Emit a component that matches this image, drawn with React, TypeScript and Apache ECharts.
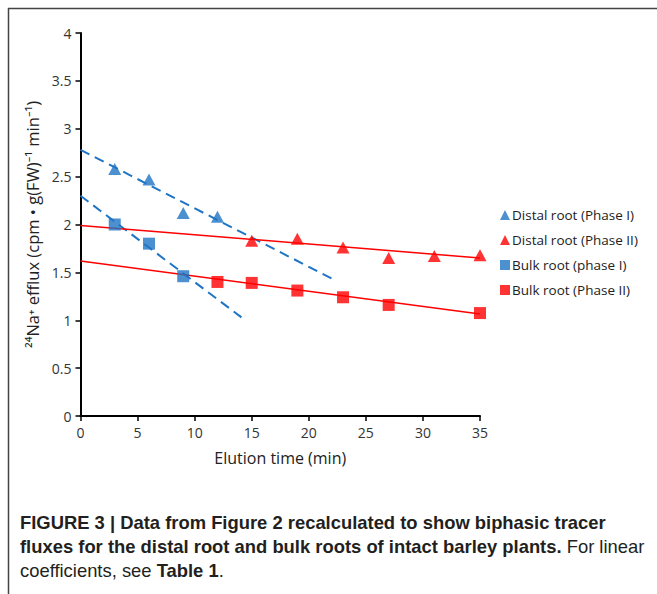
import React, { useEffect, useRef } from "react";
import * as echarts from "echarts";

const distalPhase1 = [[3, 2.58], [6, 2.47], [9, 2.12], [12, 2.08]];
const distalPhase2 = [[15, 1.83], [19, 1.85], [23, 1.76], [27, 1.65], [31, 1.67], [35, 1.68]];
const bulkPhase1 = [[3, 2.0], [6, 1.8], [9, 1.46]];
const bulkPhase2 = [[12, 1.4], [15, 1.39], [19, 1.31], [23, 1.24], [27, 1.16], [35, 1.075]];

const trendDistal1 = [[0, 2.78], [22.1, 1.43]];
const trendBulk1 = [[0, 2.3], [14.1, 1.03]];
const trendDistal2 = [[0, 1.99], [35, 1.65]];
const trendBulk2 = [[0, 1.62], [35, 1.065]];

const legendNames = ["Distal root (Phase I)", "Distal root (Phase II)", "Bulk root (phase I)", "Bulk root (Phase II)"];

const BLUE = "#1F74C4";
const RED = "#FF0000";
const TRI = "triangle";
const SQ = "rect";
const CHART_FONT = "'Open Sans', 'Noto Sans', sans-serif";
const CAP_FONT = "'Liberation Sans', Arial, sans-serif";
const CAP_SIZE = 18.4;

export default function App() {
  const ref = useRef<HTMLDivElement>(null);
  useEffect(() => {
    document.body.style.margin = "0";
    const chart = echarts.init(ref.current!, null, { renderer: "svg" });
    const capStyle = { fontFamily: CAP_FONT, fontSize: CAP_SIZE, fill: "#231f20" };
    const rich = {
      b: { fontFamily: CAP_FONT, fontSize: CAP_SIZE, fontWeight: "bold", fill: "#231f20" },
      n: { fontFamily: CAP_FONT, fontSize: CAP_SIZE, fontWeight: "normal", fill: "#231f20" },
    };
    chart.setOption({
      animation: false,
      backgroundColor: "#ffffff",
      textStyle: { fontFamily: CHART_FONT },
      grid: { left: 80.5, right: 177, top: 33, bottom: 178 },
      xAxis: {
        type: "value",
        min: 0,
        max: 35,
        interval: 5,
        name: "Elution time (min)",
        nameLocation: "middle",
        nameGap: 34,
        nameTextStyle: { fontSize: 16, color: "#222", fontFamily: CHART_FONT },
        axisLine: { lineStyle: { color: "#000", width: 2 } },
        axisTick: { show: true, length: 5, lineStyle: { color: "#000", width: 1.5 } },
        axisLabel: { fontSize: 14, color: "#333", margin: 9, fontFamily: CHART_FONT },
        splitLine: { show: false },
      },
      yAxis: {
        type: "value",
        min: 0,
        max: 4,
        interval: 0.5,
        name: "²⁴Na⁺ efflux (cpm • g(FW)⁻¹ min⁻¹)",
        nameLocation: "middle",
        nameGap: 39,
        nameTextStyle: { fontSize: 16.5, color: "#222", fontFamily: CHART_FONT },
        axisLine: { show: true, lineStyle: { color: "#000", width: 2 } },
        axisTick: { show: true, length: 5, lineStyle: { color: "#000", width: 1.5 } },
        axisLabel: { fontSize: 14, color: "#333", margin: 9, fontFamily: CHART_FONT },
        splitLine: { show: false },
      },
      legend: {
        orient: "vertical",
        left: 495,
        top: 201,
        itemGap: 7,
        itemWidth: 10,
        itemHeight: 10,
        textStyle: { fontSize: 13.5, color: "#222", fontFamily: CHART_FONT, padding: [0, 0, 0, -3], lineHeight: 18 },
        data: legendNames.map((n, i) => ({ name: n, icon: i < 2 ? TRI : SQ })),
      },
      series: [
        { type: "line", data: trendDistal1, showSymbol: false, symbol: "none", lineStyle: { color: BLUE, width: 2, type: [10, 6] }, z: 1, silent: true },
        { type: "line", data: trendBulk1, showSymbol: false, symbol: "none", lineStyle: { color: BLUE, width: 2, type: [10, 6] }, z: 1, silent: true },
        { type: "line", data: trendDistal2, showSymbol: false, symbol: "none", lineStyle: { color: RED, width: 1.5 }, z: 1, silent: true },
        { type: "line", data: trendBulk2, showSymbol: false, symbol: "none", lineStyle: { color: RED, width: 1.5 }, z: 1, silent: true },
        { name: legendNames[0], type: "scatter", data: distalPhase1, symbol: TRI, symbolSize: [13, 12], itemStyle: { color: BLUE }, z: 3 },
        { name: legendNames[1], type: "scatter", data: distalPhase2, symbol: TRI, symbolSize: [13, 12], itemStyle: { color: RED }, z: 3 },
        { name: legendNames[2], type: "scatter", data: bulkPhase1, symbol: SQ, symbolSize: 12, itemStyle: { color: BLUE }, z: 3 },
        { name: legendNames[3], type: "scatter", data: bulkPhase2, symbol: SQ, symbolSize: 12, itemStyle: { color: RED }, z: 3 },
      ],
      graphic: [
        { type: "line", shape: { x1: 8, y1: 8.5, x2: 657, y2: 8.5 }, style: { stroke: "#444", lineWidth: 1.5 } },
        { type: "line", shape: { x1: 8.5, y1: 8, x2: 8.5, y2: 594 }, style: { stroke: "#444", lineWidth: 1.5 } },
        {
          type: "text", left: 20, top: 513,
          style: { ...capStyle, fontWeight: "bold", text: "FIGURE 3 | Data from Figure 2 recalculated to show biphasic tracer" },
        },
        {
          type: "text", left: 20, top: 537,
          style: { ...capStyle, text: "{b|fluxes for the distal root and bulk roots of intact barley plants.}{n| For linear}", rich },
        },
        {
          type: "text", left: 20, top: 561,
          style: { ...capStyle, text: "{n|coefficients, see }{b|Table 1}{n|.}", rich },
        },
      ],
    });
    return () => chart.dispose();
  }, []);
  return <div ref={ref} style={{ width: 657, height: 594 }} />;
}
